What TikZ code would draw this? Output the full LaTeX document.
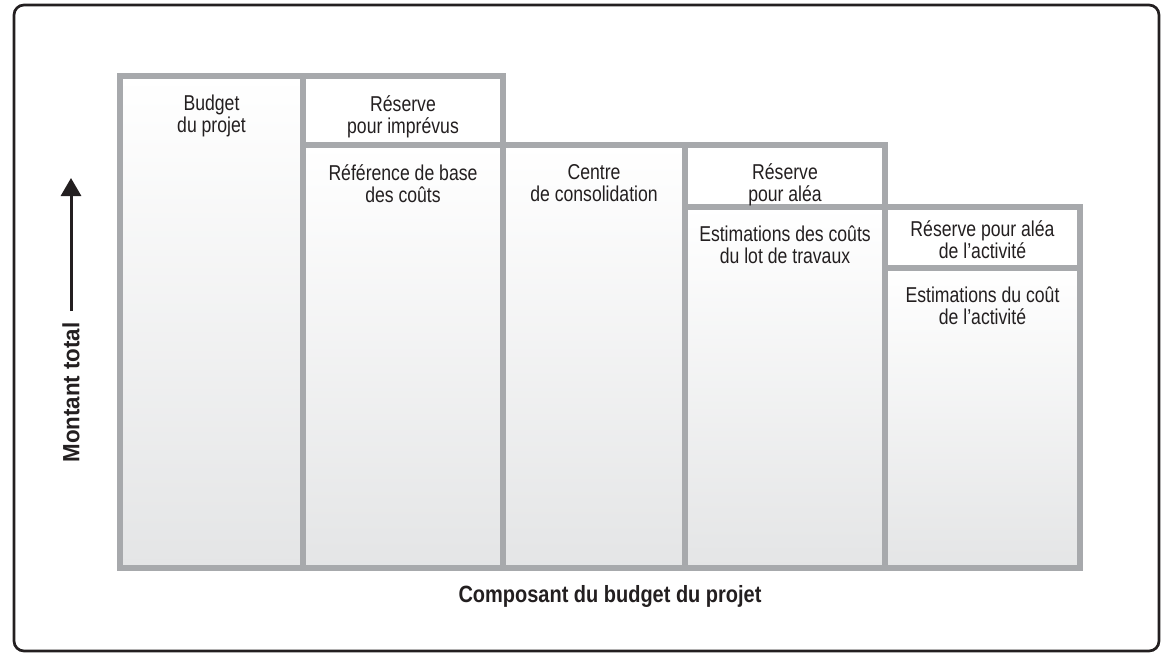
\documentclass[tikz,border=0pt]{standalone}
\usepackage{fontspec}
\setmainfont{Liberation Sans}[FakeStretch=0.82]
\newfontfamily\boldfont{Liberation Sans}[FakeStretch=0.85]
\newfontfamily\widefont{Liberation Sans}[FakeStretch=0.95]
\usetikzlibrary{arrows.meta}
\definecolor{cellgray}{HTML}{A7A9AC}
\definecolor{cellfill}{HTML}{E4E5E6}
\definecolor{ink}{HTML}{231F20}

\begin{document}
\begin{tikzpicture}[x=1pt,y=-1pt,
    cell/.style={draw=cellgray,line width=6pt,top color=white,bottom color=cellfill},
    topcell/.style={draw=cellgray,line width=6pt,fill=white},
    label/.style={anchor=north,inner sep=0pt,align=center,text=ink,font=\fontsize{21.5}{22}\selectfont},
    axis/.style={inner sep=0pt,text=ink,font=\boldfont\bfseries\fontsize{23.5}{24}\selectfont}]
\useasboundingbox (0,0) rectangle (1161,653);
\draw[ink,line width=2.7pt,rounded corners=10pt] (14,5) rectangle (1159,651);

% budget columns
\draw[cell] (120,76) rectangle (303,568);
\draw[topcell] (303,76) rectangle (503,145);
\draw[cell] (303,145) rectangle (503,568);
\draw[cell] (503,145) rectangle (685,568);
\draw[topcell] (685,145) rectangle (885,207);
\draw[cell] (685,207) rectangle (885,568);
\draw[topcell] (885,207) rectangle (1080,268);
\draw[cell] (885,268) rectangle (1080,568);

\node[label] (budget) at (211.5,95) {Budget\\du projet};
\node[label] (imprevus) at (403,95) {Réserve\\pour imprévus};
\node[label] (refbase) at (403,164) {Référence de base\\des coûts};
\node[label] (centre) at (594,164) {Centre\\de consolidation};
\node[label] (alea) at (785,163) {Réserve\\pour aléa};
\node[label] (lot) at (785,226) {Estimations des coûts\\du lot de travaux};
\node[label] (aleaact) at (982.5,220) {Réserve pour aléa\\de l’activité};
\node[label] (coutact) at (982.5,287) {Estimations du coût\\de l’activité};

% axes
\node[axis] (xlab) at (610,596) {Composant du budget du projet};
\node[axis,rotate=90,font=\widefont\bfseries\fontsize{23.5}{24}\selectfont] (ylab) at (71,392.5) {Montant total};
\coordinate (ytip) at (71,178);
\draw[ink,line width=3pt,-{Triangle[width=20pt,length=18pt]},shorten <=11pt] (ylab) -- (ytip);
\end{tikzpicture}
\end{document}
